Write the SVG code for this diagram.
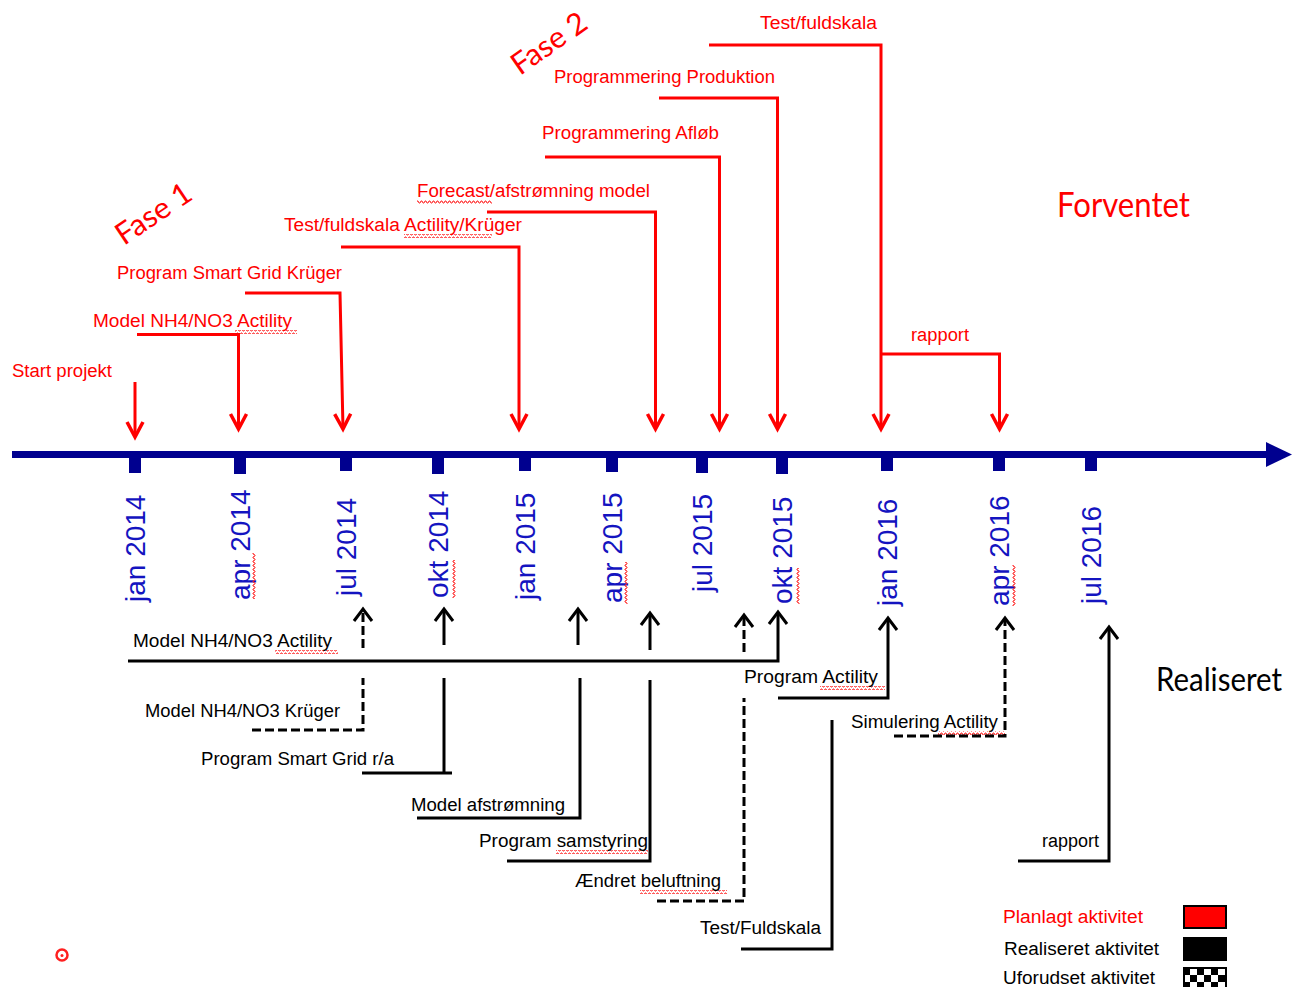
<svg xmlns="http://www.w3.org/2000/svg" width="1295" height="987" viewBox="0 0 1295 987">
<style>
  .t { font-family: "Liberation Sans", Arial, sans-serif; font-size: 18px; }
  .r { fill: #ff0000; }
  .k { fill: #000000; }
  .ax { font-family: "Liberation Sans", Arial, sans-serif; font-size: 28px; fill: #1414c0; }
  .big { font-family: Lato, "Liberation Sans", sans-serif; }
  .cr { fill: none; stroke: #ff0000; stroke-width: 3; }
  .ck { fill: none; stroke: #000000; stroke-width: 3; }
  .dash { stroke-dasharray: 9 4; }
  .tick { fill: #00008f; }
</style>
<defs>
  <marker id="arrR" markerUnits="userSpaceOnUse" orient="auto" viewBox="-20 -12 24 24" markerWidth="24" markerHeight="24" refX="0" refY="0">
    <path d="M-15,-8 L0,0 L-15,8" fill="none" stroke="#ff0000" stroke-width="3.5"/>
  </marker>
  <marker id="arrK" markerUnits="userSpaceOnUse" orient="auto" viewBox="-20 -12 24 24" markerWidth="24" markerHeight="24" refX="0" refY="0">
    <path d="M-12,-9 L0,0 L-12,9" fill="none" stroke="#000000" stroke-width="3"/>
  </marker>
  <pattern id="wave" patternUnits="userSpaceOnUse" width="4" height="4">
    <path d="M0,3 L1,1 L2,1 L3,3 L4,3" fill="none" stroke="#ff2020" stroke-width="1"/>
  </pattern>
  <pattern id="wavev" patternUnits="userSpaceOnUse" width="4" height="4">
    <path d="M3,0 L1,1 L1,2 L3,3 L3,4" fill="none" stroke="#ff2020" stroke-width="1"/>
  </pattern>
  <pattern id="checker" patternUnits="userSpaceOnUse" x="1183" y="968" width="14" height="14">
    <rect width="14" height="14" fill="#ffffff"/>
    <rect width="7" height="7" fill="#000000"/>
    <rect x="7" y="7" width="7" height="7" fill="#000000"/>
  </pattern>
</defs>
<rect width="1295" height="987" fill="#ffffff"/>

<!-- timeline axis -->
<g id="axis">
  <line x1="12" y1="454.5" x2="1270" y2="454.5" stroke="#00008f" stroke-width="7"/>
  <path d="M1266,442 L1292,454.5 L1266,467 Z" fill="#00008f"/>
  <rect class="tick" x="129" y="455" width="12" height="18"/>
  <rect class="tick" x="234" y="455" width="12" height="19"/>
  <rect class="tick" x="340" y="455" width="12" height="16"/>
  <rect class="tick" x="432" y="455" width="12" height="19"/>
  <rect class="tick" x="519" y="455" width="12" height="16"/>
  <rect class="tick" x="606" y="455" width="12" height="17"/>
  <rect class="tick" x="696" y="455" width="12" height="18"/>
  <rect class="tick" x="776" y="455" width="12" height="19"/>
  <rect class="tick" x="881" y="455" width="12" height="16"/>
  <rect class="tick" x="993" y="455" width="12" height="16"/>
  <rect class="tick" x="1085" y="455" width="12" height="16"/>
</g>

<g id="axis-labels">
  <text class="ax" transform="translate(145,602) rotate(-90)">jan 2014</text>
  <text class="ax" transform="translate(250,600) rotate(-90)">apr 2014</text>
  <text class="ax" transform="translate(356,596) rotate(-90)">jul 2014</text>
  <text class="ax" transform="translate(448,598) rotate(-90)">okt 2014</text>
  <text class="ax" transform="translate(535,600) rotate(-90)">jan 2015</text>
  <text class="ax" transform="translate(622,603) rotate(-90)">apr 2015</text>
  <text class="ax" transform="translate(712,592) rotate(-90)">jul 2015</text>
  <text class="ax" transform="translate(792,604) rotate(-90)">okt 2015</text>
  <text class="ax" transform="translate(897,606) rotate(-90)">jan 2016</text>
  <text class="ax" transform="translate(1009,606) rotate(-90)">apr 2016</text>
  <text class="ax" transform="translate(1101,604) rotate(-90)">jul 2016</text>
</g>

<!-- spell-check squiggles -->
<g id="squiggles">
  <rect x="235" y="330" width="62" height="4" fill="url(#wave)"/>
  <rect x="404" y="234" width="88" height="4" fill="url(#wave)"/>
  <rect x="417" y="200" width="75" height="4" fill="url(#wave)"/>
  <rect x="275" y="650" width="63" height="4" fill="url(#wave)"/>
  <rect x="820" y="686" width="65" height="4" fill="url(#wave)"/>
  <rect x="938" y="731" width="67" height="4" fill="url(#wave)"/>
  <rect x="556" y="850" width="92" height="4" fill="url(#wave)"/>
  <rect x="640" y="890" width="87" height="4" fill="url(#wave)"/>
  <rect x="252" y="553" width="4" height="46" fill="url(#wavev)"/>
  <rect x="452" y="560" width="4" height="38" fill="url(#wavev)"/>
  <rect x="624" y="562" width="4" height="42" fill="url(#wavev)"/>
  <rect x="796" y="568" width="4" height="36" fill="url(#wavev)"/>
  <rect x="1012" y="565" width="4" height="41" fill="url(#wavev)"/>
</g>

<!-- planned (red) connectors -->
<g id="connectors-planned">
  <path class="cr" d="M135,382 V437" marker-end="url(#arrR)"/>
  <path class="cr" d="M137,334.5 H238.5 V429" marker-end="url(#arrR)"/>
  <path class="cr" d="M245,293 H340 L343,429" marker-end="url(#arrR)"/>
  <path class="cr" d="M341,247 H519 V429" marker-end="url(#arrR)"/>
  <path class="cr" d="M487,212 H655.5 V429" marker-end="url(#arrR)"/>
  <path class="cr" d="M545,157 H719.5 V429" marker-end="url(#arrR)"/>
  <path class="cr" d="M659,98 H777.5 V429" marker-end="url(#arrR)"/>
  <path class="cr" d="M709,45 H881 V429" marker-end="url(#arrR)"/>
  <path class="cr" d="M882,354 H999.5 V429" marker-end="url(#arrR)"/>
</g>

<!-- realised (black) connectors -->
<g id="connectors-realised">
  <path class="ck" d="M128,661 H778 V612" marker-end="url(#arrK)"/>
  <path class="ck dash" d="M252,730 H363 V678"/>
  <path class="ck dash" d="M363,648 V609" marker-end="url(#arrK)"/>
  <path class="ck" d="M362,773 H452"/>
  <path class="ck" d="M444,773 V678"/>
  <path class="ck" d="M444,645 V609" marker-end="url(#arrK)"/>
  <path class="ck" d="M417,818 H580 V678"/>
  <path class="ck" d="M578,645 V609" marker-end="url(#arrK)"/>
  <path class="ck" d="M507,861 H650 V680"/>
  <path class="ck" d="M650,650 V613" marker-end="url(#arrK)"/>
  <path class="ck dash" d="M657,901 H744 V698"/>
  <path class="ck dash" d="M744,652 V615" marker-end="url(#arrK)"/>
  <path class="ck" d="M741,949 H832 V720"/>
  <path class="ck" d="M778,698 H888 V618" marker-end="url(#arrK)"/>
  <path class="ck dash" d="M894,736 H1005 V618" marker-end="url(#arrK)"/>
  <path class="ck" d="M1018,861 H1109 V627" marker-end="url(#arrK)"/>
</g>

<!-- planned activity nodes -->
<g id="fase1"><text class="big r" font-size="30" transform="translate(124,246) rotate(-34)" textLength="85" lengthAdjust="spacingAndGlyphs">Fase 1</text></g>
<g id="fase2"><text class="big r" font-size="30" transform="translate(520,76) rotate(-35)" textLength="85" lengthAdjust="spacingAndGlyphs">Fase 2</text></g>
<g id="p-start"><text class="t r" x="12" y="377" textLength="100" lengthAdjust="spacingAndGlyphs">Start projekt</text></g>
<g id="p-model"><text class="t r" x="93" y="327" textLength="199" lengthAdjust="spacingAndGlyphs">Model NH4/NO3 Actility</text></g>
<g id="p-smartgrid"><text class="t r" x="117" y="279" textLength="225" lengthAdjust="spacingAndGlyphs">Program Smart Grid Krüger</text></g>
<g id="p-test1"><text class="t r" x="284" y="231" textLength="238" lengthAdjust="spacingAndGlyphs">Test/fuldskala Actility/Krüger</text></g>
<g id="p-forecast"><text class="t r" x="417" y="197" textLength="233" lengthAdjust="spacingAndGlyphs">Forecast/afstrømning model</text></g>
<g id="p-aflob"><text class="t r" x="542" y="139" textLength="177" lengthAdjust="spacingAndGlyphs">Programmering Afløb</text></g>
<g id="p-produktion"><text class="t r" x="554" y="83" textLength="221" lengthAdjust="spacingAndGlyphs">Programmering Produktion</text></g>
<g id="p-test2"><text class="t r" x="760" y="29" textLength="117" lengthAdjust="spacingAndGlyphs">Test/fuldskala</text></g>
<g id="p-rapport"><text class="t r" x="911" y="341" textLength="58" lengthAdjust="spacingAndGlyphs">rapport</text></g>
<g id="forventet"><text class="big r" font-size="34" x="1057" y="217" textLength="133" lengthAdjust="spacingAndGlyphs">Forventet</text></g>

<!-- realised activity nodes -->
<g id="r-model-actility"><text class="t k" x="133" y="647" textLength="199" lengthAdjust="spacingAndGlyphs">Model NH4/NO3 Actility</text></g>
<g id="r-model-kruger"><text class="t k" x="145" y="717" textLength="195" lengthAdjust="spacingAndGlyphs">Model NH4/NO3 Krüger</text></g>
<g id="r-smartgrid"><text class="t k" x="201" y="765" textLength="193" lengthAdjust="spacingAndGlyphs">Program Smart Grid r/a</text></g>
<g id="r-afstromning"><text class="t k" x="411" y="811" textLength="154" lengthAdjust="spacingAndGlyphs">Model afstrømning</text></g>
<g id="r-samstyring"><text class="t k" x="479" y="847" textLength="169" lengthAdjust="spacingAndGlyphs">Program samstyring</text></g>
<g id="r-beluftning"><text class="t k" x="575" y="887" textLength="146" lengthAdjust="spacingAndGlyphs">Ændret beluftning</text></g>
<g id="r-test"><text class="t k" x="700" y="934" textLength="121" lengthAdjust="spacingAndGlyphs">Test/Fuldskala</text></g>
<g id="r-program-actility"><text class="t k" x="744" y="683" textLength="134" lengthAdjust="spacingAndGlyphs">Program Actility</text></g>
<g id="r-simulering"><text class="t k" x="851" y="728" textLength="147" lengthAdjust="spacingAndGlyphs">Simulering Actility</text></g>
<g id="r-rapport"><text class="t k" x="1042" y="847" textLength="57" lengthAdjust="spacingAndGlyphs">rapport</text></g>
<g id="realiseret"><text class="big k" font-size="32" x="1156" y="691" textLength="126" lengthAdjust="spacingAndGlyphs">Realiseret</text></g>

<!-- legend -->
<g id="legend">
  <text class="t r" x="1003" y="923" textLength="140" lengthAdjust="spacingAndGlyphs">Planlagt aktivitet</text>
  <rect x="1184" y="906" width="42" height="22" fill="#ff0000" stroke="#000000" stroke-width="2"/>
  <text class="t k" x="1004" y="955" textLength="155" lengthAdjust="spacingAndGlyphs">Realiseret aktivitet</text>
  <rect x="1184" y="938" width="42" height="22" fill="#000000" stroke="#000000" stroke-width="2"/>
  <text class="t k" x="1003" y="984" textLength="152" lengthAdjust="spacingAndGlyphs">Uforudset aktivitet</text>
  <rect x="1184" y="968" width="42" height="24" fill="url(#checker)" stroke="#000000" stroke-width="2"/>
</g>

<g id="marker-dot">
  <circle cx="62" cy="955" r="5.5" fill="none" stroke="#ff2020" stroke-width="2.5"/>
  <circle cx="62" cy="955.5" r="1.5" fill="#ff2020"/>
</g>
</svg>
